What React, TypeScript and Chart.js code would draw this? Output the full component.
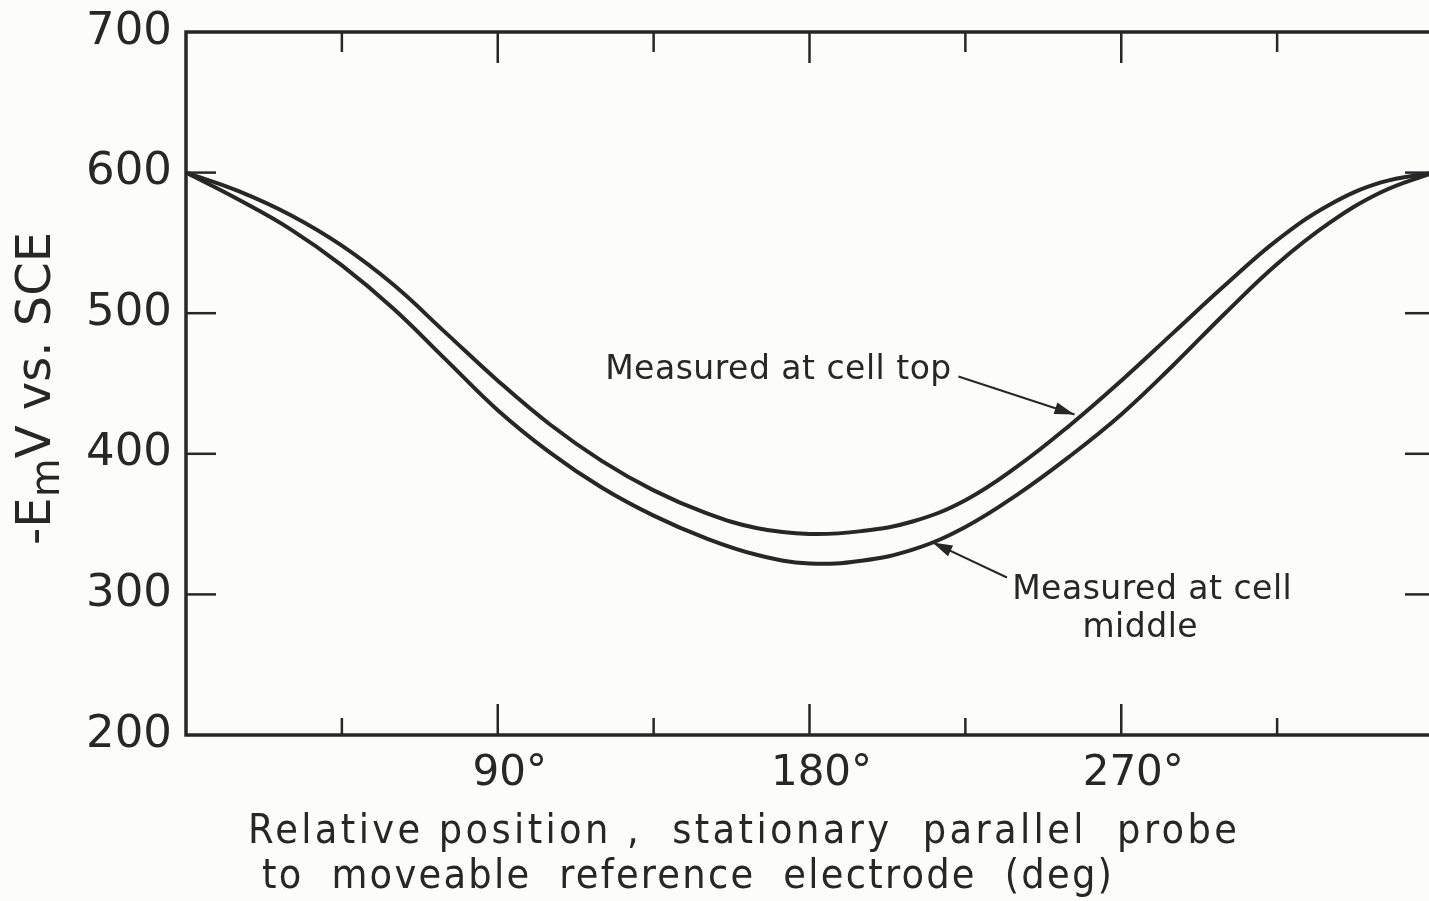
import React, { useEffect, useRef } from 'react';
import { Chart, registerables } from 'chart.js';

Chart.register(...registerables);

// ---- data ----
const angles = [0, 15, 30, 45, 60, 75, 90, 105, 120, 135, 150, 165, 180, 195, 210, 225, 240, 255, 270, 285, 300, 315, 330, 345, 360];
const cellTop = [600, 587, 570, 548, 520, 486, 452, 421, 395, 374, 358, 347, 343, 345, 352, 367, 391, 420, 452, 486, 520, 552, 577, 593, 600];
const cellMiddle = [600, 581, 560, 534, 503, 467, 431, 401, 376, 356, 340, 328, 322, 324, 332, 348, 371, 398, 428, 463, 500, 535, 564, 586, 600];

const yTickValues = [200, 300, 400, 500, 600, 700];
const xLabelTicks = [90, 180, 270];
const xMajorTicks = [90, 180, 270];
const xMinorTicks = [45, 135, 225, 315];
const yInnerTicks = [300, 400, 500, 600];

const yTitleParts = ['-E', 'm', 'V vs. SCE'];
const xTitleLines = ['Relative position ,  stationary  parallel  probe', 'to  moveable  reference  electrode  (deg)'];
const xTitleWidths = [989, 850];
const topLabel = 'Measured at cell top';
const middleLabel = ['Measured at cell', 'middle'];

// annotation anchors in data units (angle, mV)
const topLabelAt = [121, 453];
const topArrowFrom = [223, 455];
const topArrowTo = [256.5, 428];
const middleLabelAt = [238.5, 297];
const middleLabel2At = [275.5, 270];
const middleArrowFrom = [237, 312];
const middleArrowTo = [215.5, 337];

const INK = '#272727';
const BG = '#fcfcfb';

function drawArrow(ctx: CanvasRenderingContext2D, x1: number, y1: number, x2: number, y2: number) {
  ctx.beginPath();
  ctx.moveTo(x1, y1);
  ctx.lineTo(x2, y2);
  ctx.stroke();
  const a = Math.atan2(y2 - y1, x2 - x1);
  const len = 20;
  const w = 6;
  ctx.beginPath();
  ctx.moveTo(x2, y2);
  ctx.lineTo(x2 - len * Math.cos(a) + w * Math.sin(a), y2 - len * Math.sin(a) - w * Math.cos(a));
  ctx.lineTo(x2 - len * Math.cos(a) - w * Math.sin(a), y2 - len * Math.sin(a) + w * Math.cos(a));
  ctx.closePath();
  ctx.fill();
}

function fitText(ctx: CanvasRenderingContext2D, text: string, x: number, y: number, target: number) {
  (ctx as any).letterSpacing = '0px';
  const w = ctx.measureText(text).width;
  const sp = Math.max(0, (target - w) / Math.max(1, text.length - 1));
  (ctx as any).letterSpacing = `${sp}px`;
  ctx.fillText(text, x, y);
  (ctx as any).letterSpacing = '0px';
}

const decorPlugin = {
  id: 'decor',
  beforeDraw(chart: any) {
    const ctx = chart.ctx;
    ctx.save();
    ctx.fillStyle = BG;
    ctx.fillRect(0, 0, chart.width, chart.height);
    ctx.restore();
  },
  afterDraw(chart: any) {
    const ctx: CanvasRenderingContext2D = chart.ctx;
    const { left, right, top, bottom } = chart.chartArea;
    const xs = chart.scales.x;
    const ys = chart.scales.y;
    ctx.save();
    ctx.strokeStyle = INK;
    ctx.fillStyle = INK;
    ctx.lineCap = 'butt';

    // frame
    ctx.lineWidth = 3.5;
    ctx.strokeRect(left, top, right - left, bottom - top);

    // inward ticks
    ctx.lineWidth = 2.5;
    const vline = (x: number, y1: number, y2: number) => {
      ctx.beginPath(); ctx.moveTo(x, y1); ctx.lineTo(x, y2); ctx.stroke();
    };
    const hline = (y: number, x1: number, x2: number) => {
      ctx.beginPath(); ctx.moveTo(x1, y); ctx.lineTo(x2, y); ctx.stroke();
    };
    xMajorTicks.forEach((v) => {
      const px = xs.getPixelForValue(v);
      vline(px, bottom, bottom - 31);
      vline(px, top, top + 31);
    });
    xMinorTicks.forEach((v) => {
      const px = xs.getPixelForValue(v);
      vline(px, bottom, bottom - 17);
      vline(px, top, top + 20);
    });
    yInnerTicks.forEach((v) => {
      const py = ys.getPixelForValue(v);
      hline(py, left, left + 30);
      hline(py, right, right - 28);
    });

    // annotations
    ctx.font = '33px "DejaVu Sans"';
    (ctx as any).letterSpacing = '0.5px';
    ctx.textAlign = 'left';
    ctx.textBaseline = 'alphabetic';
    ctx.fillText(topLabel, xs.getPixelForValue(topLabelAt[0]), ys.getPixelForValue(topLabelAt[1]));
    ctx.fillText(middleLabel[0], xs.getPixelForValue(middleLabelAt[0]), ys.getPixelForValue(middleLabelAt[1]));
    ctx.textAlign = 'center';
    ctx.fillText(middleLabel[1], xs.getPixelForValue(middleLabel2At[0]), ys.getPixelForValue(middleLabel2At[1]));
    (ctx as any).letterSpacing = '0px';

    ctx.lineWidth = 2;
    drawArrow(ctx, xs.getPixelForValue(topArrowFrom[0]), ys.getPixelForValue(topArrowFrom[1]),
      xs.getPixelForValue(topArrowTo[0]), ys.getPixelForValue(topArrowTo[1]));
    drawArrow(ctx, xs.getPixelForValue(middleArrowFrom[0]), ys.getPixelForValue(middleArrowFrom[1]),
      xs.getPixelForValue(middleArrowTo[0]), ys.getPixelForValue(middleArrowTo[1]));

    // x axis title (two left-aligned lines)
    ctx.font = '41px "DejaVu Sans Condensed"';
    ctx.textAlign = 'left';
    fitText(ctx, xTitleLines[0], left + 62, bottom + 108, xTitleWidths[0]);
    fitText(ctx, xTitleLines[1], left + 76, bottom + 153, xTitleWidths[1]);

    // y axis title, rotated, with subscript m
    const cy = (top + bottom) / 2 + 5;
    ctx.translate(50, cy);
    ctx.rotate(-Math.PI / 2);
    ctx.textAlign = 'left';
    const mainFont = '48px "DejaVu Sans"';
    const subFont = '40px "DejaVu Sans"';
    ctx.font = mainFont;
    const w0 = ctx.measureText(yTitleParts[0]).width;
    const w2 = ctx.measureText(yTitleParts[2]).width;
    ctx.font = subFont;
    const w1 = ctx.measureText(yTitleParts[1]).width;
    let x0 = -(w0 + w1 + w2) / 2;
    ctx.font = mainFont;
    ctx.fillText(yTitleParts[0], x0, 0);
    x0 += w0;
    ctx.font = subFont;
    ctx.fillText(yTitleParts[1], x0, 9);
    x0 += w1;
    ctx.font = mainFont;
    ctx.fillText(yTitleParts[2], x0, 0);

    ctx.restore();
  },
};

export default function App() {
  const canvasRef = useRef<HTMLCanvasElement | null>(null);

  useEffect(() => {
    const canvas = canvasRef.current;
    if (!canvas) return;
    const chart = new Chart(canvas, {
      type: 'line',
      data: {
        labels: angles,
        datasets: [
          {
            label: 'Measured at cell top',
            data: angles.map((a, i) => ({ x: a, y: cellTop[i] })),
            borderColor: INK,
            borderWidth: 4,
            pointRadius: 0,
            tension: 0.4,
            fill: false,
          },
          {
            label: 'Measured at cell middle',
            data: angles.map((a, i) => ({ x: a, y: cellMiddle[i] })),
            borderColor: INK,
            borderWidth: 4,
            pointRadius: 0,
            tension: 0.4,
            fill: false,
          },
        ],
      },
      options: {
        responsive: false,
        animation: false,
        devicePixelRatio: 1,
        layout: { padding: { left: 0, right: 12, top: 32, bottom: 0 } },
        plugins: {
          legend: { display: false },
          tooltip: { enabled: false },
          title: { display: false },
        },
        scales: {
          x: {
            type: 'linear',
            min: 0,
            max: 360,
            afterFit: (s: any) => { s.height = 166; s.paddingLeft = 0; s.paddingRight = 0; },
            afterBuildTicks: (s: any) => { s.ticks = xLabelTicks.map((v) => ({ value: v })); },
            grid: { display: false, drawTicks: false },
            border: { display: false },
            ticks: {
              color: INK,
              font: { family: 'DejaVu Sans', size: 42 },
              padding: 14,
              labelOffset: 12,
              maxRotation: 0,
              autoSkip: false,
              callback: (v: any) => `${v}°`,
            },
          },
          y: {
            type: 'linear',
            min: 200,
            max: 700,
            afterFit: (s: any) => { s.width = 186; s.paddingTop = 0; s.paddingBottom = 0; },
            afterBuildTicks: (s: any) => { s.ticks = yTickValues.map((v) => ({ value: v })); },
            grid: { display: false, drawTicks: false },
            border: { display: false },
            ticks: {
              color: INK,
              font: { family: 'DejaVu Sans', size: 45 },
              padding: 14,
              autoSkip: false,
              callback: (v: any) => `${v}`,
            },
          },
        },
      },
      plugins: [decorPlugin],
    } as any);
    return () => chart.destroy();
  }, []);

  return (
    <div style={{ position: 'fixed', left: 0, top: 0, width: 1429, height: 901, overflow: 'hidden', background: BG }}>
      <canvas ref={canvasRef} width={1445} height={901} style={{ width: 1445, height: 901, display: 'block' }} />
    </div>
  );
}
